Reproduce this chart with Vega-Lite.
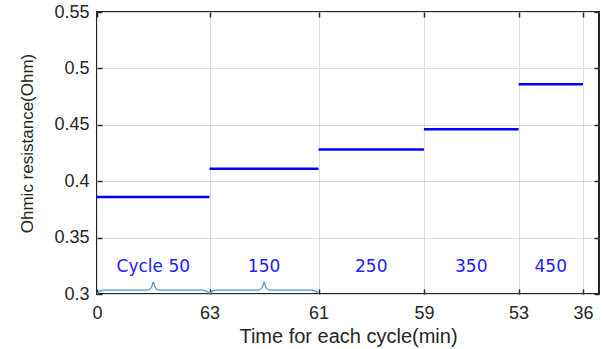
{
  "$schema": "https://vega.github.io/schema/vega-lite/v6.json",
  "width": 502,
  "height": 282,
  "autosize": {"type": "none"},
  "padding": {"left": 97, "top": 12, "right": 4, "bottom": 55},
  "background": "white",
  "config": {
    "view": {"stroke": "#262626", "strokeWidth": 2},
    "axis": {
      "labelFont": "Liberation Sans",
      "labelFontSize": 18,
      "labelColor": "#262626",
      "titleFont": "Liberation Sans",
      "titleColor": "#262626",
      "titleFontWeight": "normal",
      "domain": false,
      "tickColor": "#262626",
      "tickWidth": 1.5,
      "gridColor": "#dcdcdc",
      "gridWidth": 1
    }
  },
  "datasets": {
    "segments": [
      {"cycle": "Cycle 50", "start": 0, "end": 63, "mid": 31.5, "resistance": 0.386},
      {"cycle": "150", "start": 63, "end": 124, "mid": 93.5, "resistance": 0.411},
      {"cycle": "250", "start": 124, "end": 183, "mid": 153.5, "resistance": 0.428},
      {"cycle": "350", "start": 183, "end": 236, "mid": 209.5, "resistance": 0.446},
      {"cycle": "450", "start": 236, "end": 272, "mid": 254, "resistance": 0.486}
    ],
    "braces": [
      {"b": 1, "t": 0, "y": 0.3003},
      {"b": 1, "t": 1.5, "y": 0.3025},
      {"b": 1, "t": 4, "y": 0.3035},
      {"b": 1, "t": 28.5, "y": 0.3035},
      {"b": 1, "t": 30.5, "y": 0.306},
      {"b": 1, "t": 31.5, "y": 0.3105},
      {"b": 1, "t": 32.5, "y": 0.306},
      {"b": 1, "t": 34.5, "y": 0.3035},
      {"b": 1, "t": 59, "y": 0.3035},
      {"b": 1, "t": 61.5, "y": 0.3025},
      {"b": 1, "t": 63, "y": 0.3003},
      {"b": 2, "t": 63, "y": 0.3003},
      {"b": 2, "t": 64.5, "y": 0.3025},
      {"b": 2, "t": 67, "y": 0.3035},
      {"b": 2, "t": 90.5, "y": 0.3035},
      {"b": 2, "t": 92.5, "y": 0.306},
      {"b": 2, "t": 93.5, "y": 0.3105},
      {"b": 2, "t": 94.5, "y": 0.306},
      {"b": 2, "t": 96.5, "y": 0.3035},
      {"b": 2, "t": 120, "y": 0.3035},
      {"b": 2, "t": 122.5, "y": 0.3025},
      {"b": 2, "t": 124, "y": 0.3003}
    ]
  },
  "resolve": {"axis": {"x": "independent", "y": "independent"}},
  "layer": [
    {
      "data": {"name": "segments"},
      "mark": {"type": "rule", "color": "#0000ff", "strokeWidth": 2.5},
      "encoding": {
        "x": {
          "field": "start", "type": "quantitative",
          "scale": {"domain": [0, 281], "nice": false, "zero": false},
          "axis": {
            "orient": "bottom",
            "title": "Time for each cycle(min)",
            "titleFontSize": 20,
            "titleY": 48,
            "titleBaseline": "alphabetic",
            "values": [0, 63, 124, 183, 236, 272],
            "labelExpr": "datum.value == 0 ? '0' : datum.value == 63 ? '63' : datum.value == 124 ? '61' : datum.value == 183 ? '59' : datum.value == 236 ? '53' : '36'",
            "grid": true,
            "ticks": false,
            "tickSize": 0,
            "labelPadding": 10,
            "labelFlush": false
          }
        },
        "x2": {"field": "end"},
        "y": {
          "field": "resistance", "type": "quantitative",
          "scale": {"domain": [0.3, 0.55], "nice": false, "zero": false},
          "axis": {
            "orient": "left",
            "title": "Ohmic resistance(Ohm)",
            "titleFontSize": 17,
            "titleX": -61,
            "titleY": 131,
            "values": [0.3, 0.35, 0.4, 0.45, 0.5, 0.55],
            "format": ".2~f",
            "grid": true,
            "ticks": false,
            "tickSize": 0,
            "labelPadding": 8
          }
        }
      }
    },
    {
      "data": {"name": "braces"},
      "mark": {"type": "line", "color": "#4d94db", "strokeWidth": 1.3, "interpolate": "monotone"},
      "encoding": {
        "x": {"field": "t", "type": "quantitative", "axis": null},
        "y": {"field": "y", "type": "quantitative", "axis": null},
        "detail": {"field": "b"}
      }
    },
    {
      "data": {"name": "segments"},
      "mark": {"type": "text", "color": "#2020ff", "font": "DejaVu Sans", "fontSize": 17, "baseline": "middle", "align": "center"},
      "encoding": {
        "x": {"field": "mid", "type": "quantitative", "axis": null},
        "y": {"datum": 0.3242, "type": "quantitative", "axis": null},
        "text": {"field": "cycle"}
      }
    },
    {
      "data": {"name": "segments"},
      "mark": {"type": "rule", "opacity": 0},
      "encoding": {
        "x": {
          "field": "start", "type": "quantitative",
          "axis": {"orient": "top", "title": null, "labels": false, "grid": false, "offset": -5, "tickSize": 5, "values": [0, 63, 124, 183, 236, 272]}
        },
        "y": {
          "field": "resistance", "type": "quantitative",
          "axis": {"orient": "right", "title": null, "labels": false, "grid": false, "offset": -5, "tickSize": 5, "values": [0.3, 0.35, 0.4, 0.45, 0.5, 0.55]}
        }
      }
    },
    {
      "data": {"name": "segments"},
      "mark": {"type": "rule", "opacity": 0},
      "encoding": {
        "x": {
          "field": "start", "type": "quantitative",
          "axis": {"orient": "bottom", "title": null, "labels": false, "grid": false, "offset": -5, "tickSize": 5, "values": [0, 63, 124, 183, 236, 272]}
        },
        "y": {
          "field": "resistance", "type": "quantitative",
          "axis": {"orient": "left", "title": null, "labels": false, "grid": false, "offset": -5, "tickSize": 5, "values": [0.3, 0.35, 0.4, 0.45, 0.5, 0.55]}
        }
      }
    }
  ]
}
